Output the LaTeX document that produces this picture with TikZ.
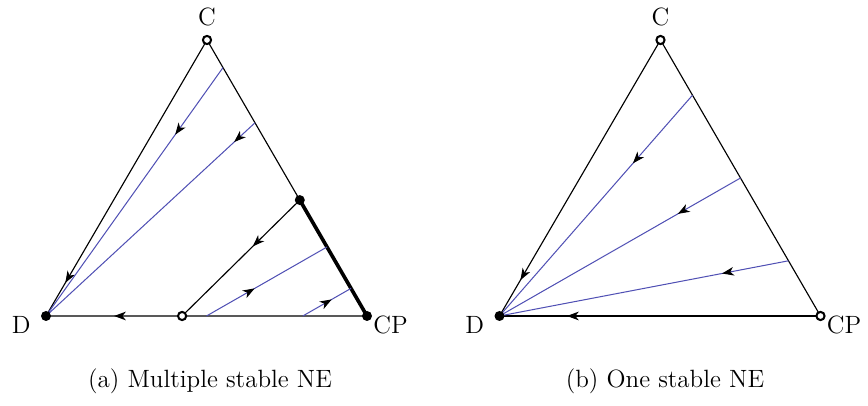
\documentclass[tikz,border=0pt]{standalone}
\usetikzlibrary{calc,arrows.meta,decorations.markings}
\definecolor{flowblue}{RGB}{80,80,180}
\tikzset{
  side/.style={line width=0.5pt},
  traj/.style={draw=flowblue, line width=0.45pt, postaction={decorate},
    decoration={markings, mark=at position #1 with {\arrow[black]{Stealth[length=5.2pt,width=3.8pt,inset=1.5pt]}}}},
  trajk/.style={traj=#1, draw=black, line width=0.5pt},
  stable/.style={circle, fill=black, inner sep=0pt, minimum size=4.4pt},
  unstable/.style={circle, draw=black, fill=white, line width=0.9pt, inner sep=0pt, minimum size=3.6pt},
  lab/.style={inner sep=0pt, font=\fontsize{11}{13.2}\selectfont},
}
\newcommand{\sommetsCDP}[1]{%
  \coordinate (#1D) at (46,316); \coordinate (#1CP) at (367,316); \coordinate (#1C) at (207,40);
  \node[lab] (#1Clab) at ($(#1C)+(0,-23)$) {C};
  \node[lab, anchor=east] (#1Dlab) at ($(#1D)+(-15,9)$) {D};
  \node[lab, anchor=west] (#1CPlab) at ($(#1CP)+(6,9)$) {CP};}

\begin{document}
\begin{tikzpicture}[x=0.44pt, y=-0.44pt]
    \useasboundingbox (0,0) rectangle (868,406);
    % (a) multiple stable NE
    \begin{scope}
      \sommetsCDP{a}
      \coordinate (a1) at ($(aC)!0.1!(aCP)$);
      \coordinate (a2) at ($(aC)!0.3!(aCP)$);
      \coordinate (aS) at ($(aC)!0.58!(aCP)$);
      \coordinate (a3) at ($(aC)!0.75!(aCP)$);
      \coordinate (a4) at ($(aC)!0.9!(aCP)$);
      \coordinate (aU) at ($(aD)!0.424!(aCP)$);
      \coordinate (a5) at ($(aD)!0.5!(aCP)$);
      \coordinate (a6) at ($(aD)!0.8!(aCP)$);
      \draw[side] (aC) -- (aS); \draw[side] (aU) -- (aCP);
      \draw[line width=1.6pt] (aS) -- (aCP);
      \draw[trajk=0.88] (aC) -- (aD);
      \draw[trajk=0.5] (aU) -- (aD);
      \draw[trajk=0.4] (aS) -- (aU);
      \draw[traj=0.27] (a1) -- (aD);
      \draw[traj=0.1] (a2) -- (aD);
      \draw[traj=0.4] (a5) -- (a3);
      \draw[traj=0.6] (a6) -- (a4);
      \node[stable] (aDdot) at (aD) {}; \node[stable] (aCPdot) at (aCP) {};
      \node[stable] (aSdot) at (aS) {};
      \node[unstable] (aCdot) at (aC) {}; \node[unstable] (aUdot) at (aU) {};
      \node[lab] (acap) at (210,381) {(a) Multiple stable NE};
    \end{scope}
    % (b) one stable NE
    \begin{scope}[shift={(453.5,0)}]
      \sommetsCDP{b}
      \coordinate (b1) at ($(bC)!0.2!(bCP)$);
      \coordinate (b2) at ($(bC)!0.5!(bCP)$);
      \coordinate (b3) at ($(bC)!0.8!(bCP)$);
      \draw[side] (bC) -- (bCP);
      \draw[trajk=0.87] (bC) -- (bD);
      \draw[trajk=0.79] (bCP) -- (bD);
      \draw[traj=0.31] (b1) -- (bD);
      \draw[traj=0.26] (b2) -- (bD);
      \draw[traj=0.23] (b3) -- (bD);
      \node[stable] (bDdot) at (bD) {};
      \node[unstable] (bCdot) at (bC) {}; \node[unstable] (bCPdot) at (bCP) {};
      \node[lab] (bcap) at (211.5,381) {(b) One stable NE};
    \end{scope}
\end{tikzpicture}
\end{document}
